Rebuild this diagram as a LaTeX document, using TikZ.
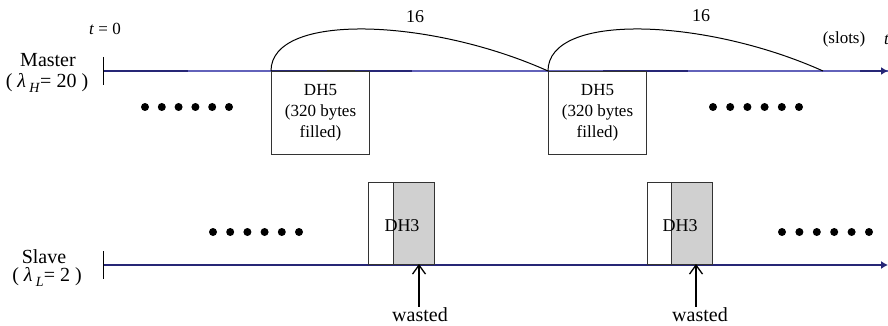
\documentclass[tikz,border=0pt]{standalone}
\usepackage{fontspec}
\setmainfont{Liberation Serif}
\usetikzlibrary{arrows.meta}
\definecolor{axl}{RGB}{98,98,186}
\definecolor{axd}{RGB}{38,38,118}
\definecolor{pkt}{RGB}{208,208,208}
\definecolor{edg}{HTML}{333333}

\begin{document}
\begin{tikzpicture}[x=1pt, y=-1pt, font=\fontsize{17}{21}\selectfont,
		box/.style={draw=edg, line width=1pt, inner sep=0pt, anchor=north west},
		blob/.style={circle, fill=black, inner sep=0pt, minimum size=8pt},
		side/.style={font=\fontsize{20}{22}\selectfont}]
			\useasboundingbox (0,0) rectangle (888,326);

			\coordinate (m0) at (103,71);
			\coordinate (m1) at (888,71);
			\coordinate (s0) at (103,265);
			\coordinate (s1) at (888,265);

			\draw[axl, line width=1.3pt] (m0) -- (m1);
			\draw[axd, line width=1.3pt] (m0) -- (188,71);
			\draw[axd, line width=1.3pt] (271,71) -- (412,71);
			\draw[black!80, line width=1.3pt] (327,71) -- (355,71);
			\draw[axd, line width=1.3pt] (603,71) -- (688,71);
			\draw[axd, line width=1.3pt, -{Latex[length=7pt,width=8pt]}] (860,71) -- (m1);
			\draw[axd, line width=1.2pt, -{Latex[length=7pt,width=8pt]}] (s0) -- (s1);

			\draw[line width=1pt] (103,57) -- (103,85);
			\draw[line width=1pt] (103,251) -- (103,279);

			\node (tzero) at (105,29) {\textit{t} = 0};
			\node[side] (master) at (48,60) {Master};
			\node[side] (lamh) at (47,83) {( \textit{λ}\,\raisebox{-5pt}{\fontsize{14}{14}\selectfont\textit{H}}= 20 )};
			\node[side] (slave) at (44,257) {Slave};
			\node[side] (laml) at (47,277) {( \textit{λ}\,\raisebox{-5pt}{\fontsize{14}{14}\selectfont\textit{L}}= 2 )};
			\node (slots) at (844,39) {(slots)};
			\node[anchor=west, inner sep=0pt] (tend) at (884,40) {\textit{t}};

			\node[box, minimum width=98pt, minimum height=83pt, align=center] (dh5a) at (271,71) {DH5\\(320 bytes\\filled)};
			\node[box, minimum width=98pt, minimum height=83pt, align=center] (dh5b) at (548,71) {DH5\\(320 bytes\\filled)};

			\coordinate (arcend) at (823,71);
			\draw[line width=1pt] (dh5a.north west) .. controls +(0,-59) and +(-118,-53) .. (dh5b.north west);
			\draw[line width=1pt] (dh5b.north west) .. controls +(0,-59) and +(-118,-53) .. (arcend);
			\node[font=\fontsize{18}{20}\selectfont] (gap1) at (415,17) {16};
			\node[font=\fontsize{18}{20}\selectfont] (gap2) at (701,16) {16};

			\node[box, fill=white, minimum width=25pt, minimum height=82pt] (sla) at (368,182) {};
			\node[box, fill=pkt, minimum width=41pt, minimum height=82pt] (dh3a) at (393,182) {};
			\node[box, fill=white, minimum width=24pt, minimum height=82pt] (slb) at (647,182) {};
			\node[box, fill=pkt, minimum width=41pt, minimum height=82pt] (dh3b) at (671,182) {};
			\node[font=\fontsize{18}{20}\selectfont] (lab3a) at (402,226) {DH3};
			\node[font=\fontsize{18}{20}\selectfont] (lab3b) at (680,226) {DH3};

			\coordinate (hit1) at (419,264);
			\coordinate (hit2) at (696,264);
			\node[font=\fontsize{20}{22}\selectfont, inner sep=1pt] (waste1) at (420,315) {wasted};
			\node[font=\fontsize{20}{22}\selectfont, inner sep=1pt] (waste2) at (700,315) {wasted};
			\draw[line width=1.3pt, -{Straight Barb[length=9pt,width=13pt,line width=1.3pt]}] (waste1.north -| hit1) -- (hit1);
			\draw[line width=1.3pt, -{Straight Barb[length=9pt,width=13pt,line width=1.3pt]}] (waste2.north -| hit2) -- (hit2);

			\foreach \i in {0,...,5}
				\node[blob] (ma\i) at (145+16.8*\i,107) {};
			\foreach \i in {0,...,5}
				\node[blob] (mb\i) at (713+17.2*\i,107) {};
			\foreach \i in {0,...,5}
				\node[blob] (sa\i) at (213+17.2*\i,232) {};
			\foreach \i in {0,...,5}
				\node[blob] (sb\i) at (782+17.4*\i,232) {};

		\end{tikzpicture}
\end{document}
